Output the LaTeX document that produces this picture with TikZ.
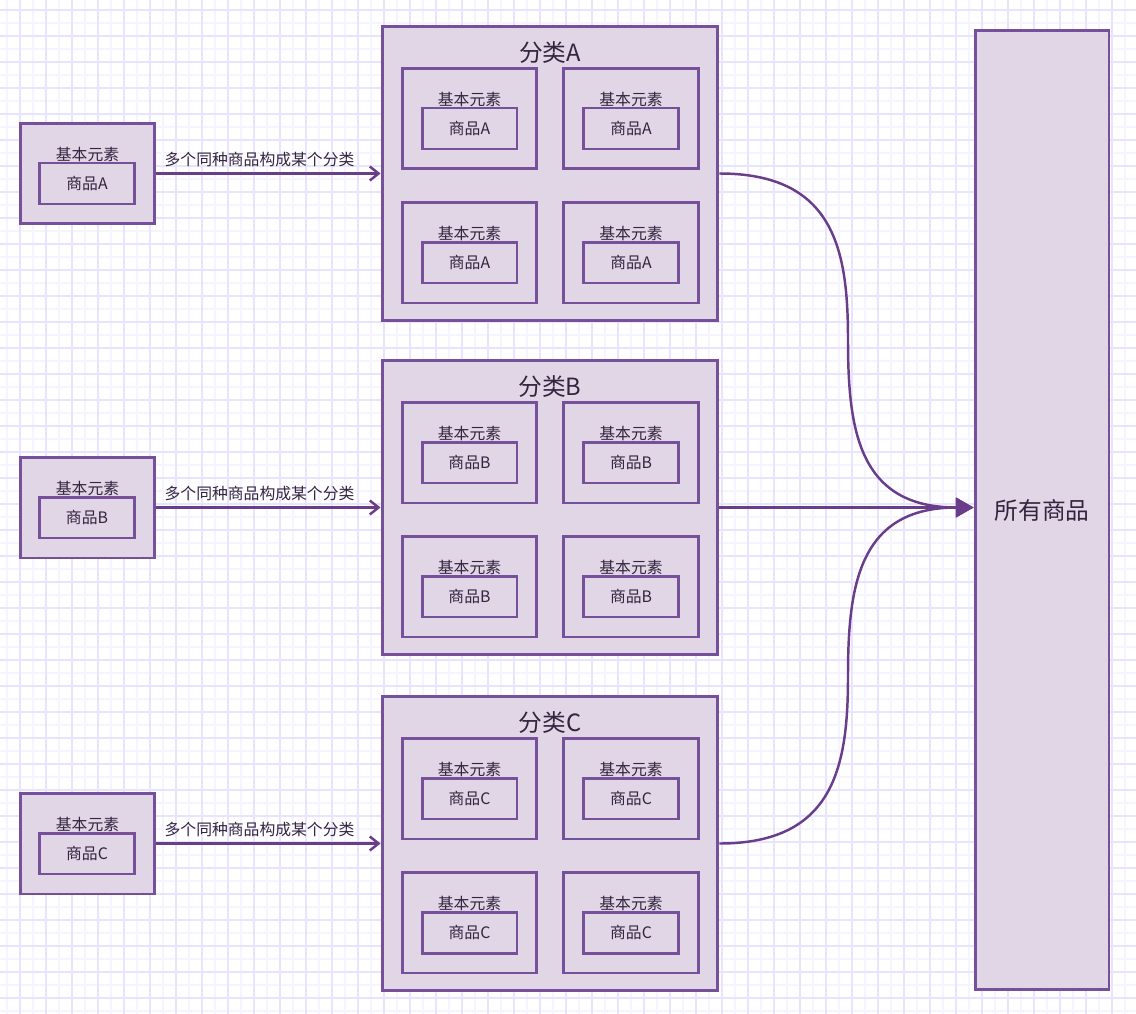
\documentclass[tikz,border=0pt]{standalone}
\usepackage{fontspec}
\setmainfont{Noto Sans CJK SC}
\usetikzlibrary{arrows.meta}

\definecolor{boxfill}{HTML}{E1D6E6}
\definecolor{boxline}{HTML}{76509A}
\definecolor{arrowline}{HTML}{6A3D8A}
\definecolor{txt}{HTML}{33243F}
\definecolor{gridmajor}{HTML}{E8E4FF}
\definecolor{gridminor}{HTML}{F6F4FF}

\begin{document}
\begin{tikzpicture}[
    x=0.02cm, y=-0.02cm,
    elem/.style={rectangle, draw=boxline, line width=1.7pt, fill=boxfill, minimum width=2.7cm, minimum height=2.02cm, inner sep=0pt},
    prod/.style={rectangle, draw=boxline, line width=1.7pt, fill=boxfill, minimum width=1.9cm, minimum height=0.82cm, inner sep=0pt, text=txt, font=\fontsize{9}{11}\selectfont},
    cat/.style={rectangle, draw=boxline, line width=1.7pt, fill=boxfill, minimum width=6.72cm, minimum height=5.9cm, inner sep=0pt},
    total/.style={rectangle, draw=boxline, line width=1.7pt, fill=boxfill, minimum width=2.68cm, minimum height=19.2cm, text=txt, font=\fontsize{13.5}{16}\selectfont},
    small/.style={text=txt, font=\fontsize{9}{11}\selectfont, inner sep=1pt},
    title/.style={text=txt, font=\fontsize{13.5}{16}\selectfont, inner sep=1pt},
    flow/.style={-{Straight Barb[length=5pt,width=8pt]}, draw=arrowline, line width=1.4pt},
    merge/.style={-{Triangle[length=10pt,width=11pt]}, draw=arrowline, line width=1.4pt}
]
    % background grid
    \useasboundingbox (0,0) rectangle (1136,1014);
    \fill[white] (0,0) rectangle (1136,1014);
    \foreach \gx in {7,33,...,1136} \draw[gridminor, line width=0.7pt] (\gx,0) -- (\gx,1014);
    \foreach \gy in {23,49,...,1014} \draw[gridminor, line width=0.7pt] (0,\gy) -- (1136,\gy);
    \foreach \gx in {20,46,...,1136} \draw[gridmajor, line width=1pt] (\gx,0) -- (\gx,1014);
    \foreach \gy in {10,36,...,1014} \draw[gridmajor, line width=1pt] (0,\gy) -- (1136,\gy);

    \node[total] (all) at (1042,510) {所有商品};

    \foreach \c/\y in {A/173.5, B/507.5, C/843.5} {
        % single element on the left
        \node[elem] (left\c) at (87.5,\y) {};
        \node[small] (left\c-lbl) at (87.5,{\y-19.5}) {基本元素};
        \node[prod] (left\c-prod) at (87,{\y+10}) {商品\c};

        % category with four elements
        \node[cat] (cat\c) at (550,\y) {};
        \node[title] (cat\c-title) at (550,{\y-120.5}) {分类\c};
        \foreach \i/\dx/\dy in {1/-80.5/-55, 2/81/-55, 3/-80.5/79, 4/81/79} {
            \node[elem] (cat\c-\i) at ({550+\dx},{\y+\dy}) {};
            \node[small] (cat\c-\i-lbl) at ({550+\dx},{\y+\dy-19.5}) {基本元素};
            \node[prod] (cat\c-\i-prod) at ({550+\dx},{\y+\dy+10}) {商品\c};
        }

        \draw[flow] (left\c) -- node[small, above=2pt, pos=0.46] {多个同种商品构成某个分类} (cat\c);
    }

    \coordinate (hub) at (all.west |- catB.east);
    \coordinate (bendA) at (848,340);
    \coordinate (bendC) at (848,676);
    \draw[merge] (catA.east) .. controls +(115,0) and +(0,-90) .. (bendA) .. controls +(0,90) and +(-115,0) .. (hub);
    \draw[merge] (catC.east) .. controls +(115,0) and +(0,90) .. (bendC) .. controls +(0,-90) and +(-115,0) .. (hub);
    \draw[merge] (catB.east) -- (hub);

\end{tikzpicture}
\end{document}
